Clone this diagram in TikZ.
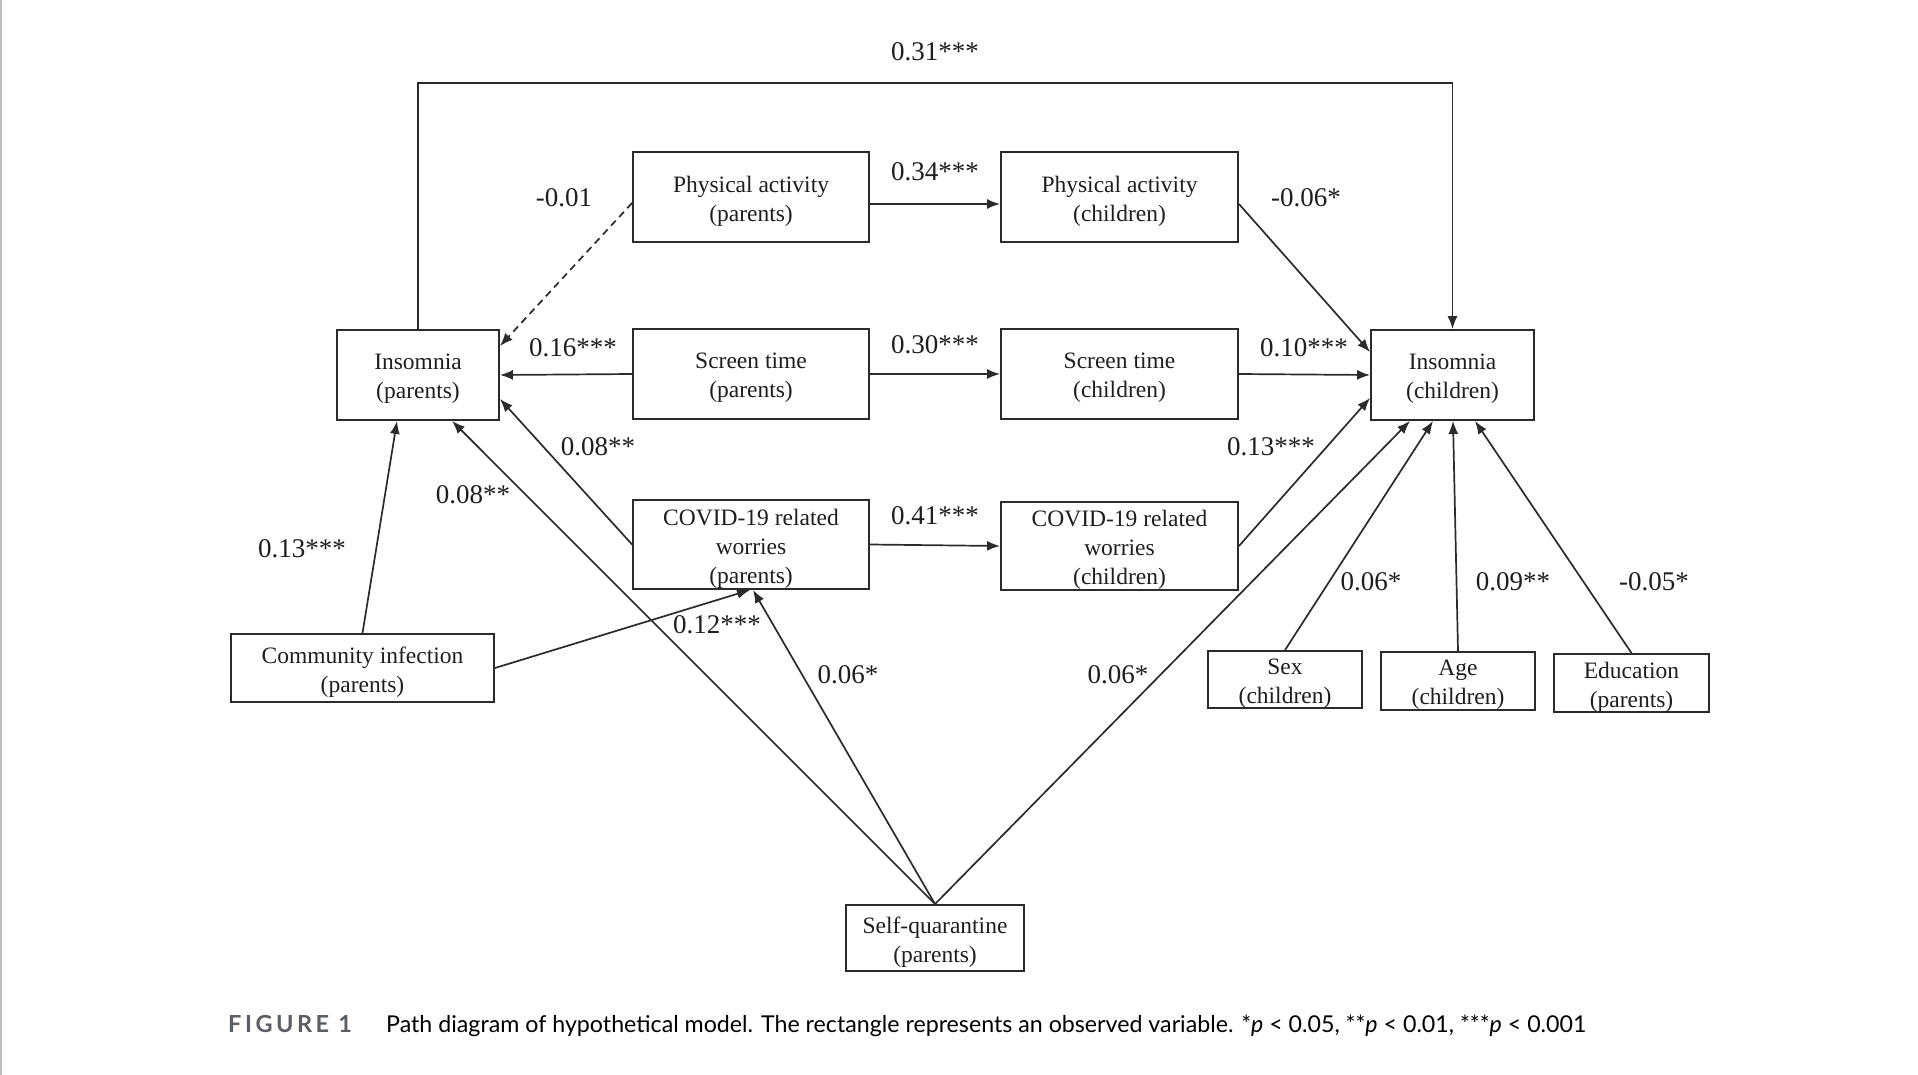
\documentclass[tikz,border=0pt]{standalone}
\usepackage{fontspec}
\setmainfont{Liberation Serif}
\newfontfamily\capfont{Lato}
\usetikzlibrary{arrows.meta}
\definecolor{linec}{HTML}{2B2B2B}
\definecolor{txtc}{HTML}{1E1E1E}
\definecolor{capgray}{HTML}{5A5F66}
\definecolor{edgegray}{HTML}{BDBDBD}
\begin{document}
\begin{tikzpicture}[x=1pt,y=-1pt,
  box/.style={draw=linec, line width=1.9pt, inner sep=0pt},
  boxtxt/.style={yshift=-4pt, inner sep=0pt, align=center, text=txtc,
    font=\fontsize{23.5}{29}\selectfont},
  arr/.style={draw=linec, line width=1.7pt, -{Latex[length=13pt,width=10pt]}},
  lab/.style={inner sep=0pt, text=txtc, font=\fontsize{27}{30}\selectfont}]
\fill[white] (0,0) rectangle (1918,1075);
\useasboundingbox (0,0) rectangle (1918,1075);
\draw[edgegray, line width=2pt] (1,0) -- (1,1075);

% boxes
\node[box, minimum width=162pt, minimum height=90pt, label={[boxtxt]center:Insomnia\\(parents)}] (insp) at (418,375) {};
\node[box, minimum width=236pt, minimum height=90pt, label={[boxtxt]center:Physical activity\\(parents)}] (physp) at (751,197) {};
\node[box, minimum width=236pt, minimum height=90pt, label={[boxtxt]center:Screen time\\(parents)}] (scrp) at (751,374) {};
\node[box, minimum width=236pt, minimum height=89pt, label={[boxtxt]center:COVID-19 related\\worries\\(parents)}] (covp) at (751,544.5) {};
\node[box, minimum width=237pt, minimum height=90pt, label={[boxtxt]center:Physical activity\\(children)}] (physc) at (1119.5,197) {};
\node[box, minimum width=237pt, minimum height=90pt, label={[boxtxt]center:Screen time\\(children)}] (scrc) at (1119.5,374) {};
\node[box, minimum width=237pt, minimum height=88pt, label={[boxtxt]center:COVID-19 related\\worries\\(children)}] (covc) at (1119.5,546) {};
\node[box, minimum width=163pt, minimum height=90pt, label={[boxtxt]center:Insomnia\\(children)}] (insc) at (1452.5,375) {};
\node[box, minimum width=263pt, minimum height=68pt, label={[boxtxt]center:Community infection\\(parents)}] (comm) at (362.5,668) {};
\node[box, minimum width=178pt, minimum height=66pt, label={[boxtxt]center:Self-quarantine\\(parents)}] (selfq) at (935,938) {};
\node[box, minimum width=154pt, minimum height=57pt, label={[boxtxt]center:Sex\\(children)}] (sex) at (1285,679.5) {};
\node[box, minimum width=154pt, minimum height=58pt, label={[boxtxt]center:Age\\(children)}] (age) at (1458,681) {};
\node[box, minimum width=155pt, minimum height=58pt, label={[boxtxt]center:Education\\(parents)}] (edu) at (1631.5,683) {};

% connectors
\draw[arr] (insp.north) -- ++(0,-246) -| (insc.north);
\draw[arr] ([yshift=-7pt]physp.east) -- ([yshift=-7pt]physc.west);
\draw[arr] (scrp.east) -- (scrc.west);
\draw[arr] (covp.east) -- (covc.west);
\draw[arr, dash pattern=on 7pt off 5pt] ([yshift=-6pt]physp.west) -- ([yshift=-17pt]insp.north east);
\draw[arr] (scrp.west) -- (insp.east);
\draw[arr] (covp.west) -- ([yshift=22pt]insp.south east);
\draw[arr] (selfq.north) -- ([xshift=34pt]insp.south);
\draw[arr] (comm.north) -- ([xshift=-21pt]insp.south);
\draw[arr] (comm.east) -- ([xshift=-1pt]covp.south);
\draw[arr] (selfq.north) -- ([xshift=2pt]covp.south);
\draw[arr] (selfq.north) -- ([xshift=-42.5pt]insc.south);
\draw[arr] ([yshift=-7pt]physc.east) -- ([yshift=-23pt]insc.north west);
\draw[arr] (scrc.east) -- (insc.west);
\draw[arr] (covc.east) -- ([yshift=23pt]insc.south west);
\draw[arr] (sex.north) -- ([xshift=-19.5pt]insc.south);
\draw[arr] (age.north) -- ([xshift=0.5pt]insc.south);
\draw[arr] (edu.north) -- ([xshift=22.5pt]insc.south);

% labels
\node[lab] (l31) at (935,52) {0.31***};
\node[lab] (l34) at (935,172) {0.34***};
\node[lab] (l30) at (935,345) {0.30***};
\node[lab] (l41) at (935,516) {0.41***};
\node[lab] (l01) at (564,198) {-0.01};
\node[lab] (l16) at (573,348) {0.16***};
\node[lab] (l08a) at (598,447) {0.08**};
\node[lab] (l08b) at (473,495) {0.08**};
\node[lab] (l13a) at (302,549) {0.13***};
\node[lab] (l12) at (717,625) {0.12***};
\node[lab] (l06a) at (848,675) {0.06*};
\node[lab] (l06b) at (1118,675) {0.06*};
\node[lab] (l06c) at (1306,198) {-0.06*};
\node[lab] (l10) at (1304,348) {0.10***};
\node[lab] (l13b) at (1271,447) {0.13***};
\node[lab] (l06d) at (1371,582) {0.06*};
\node[lab] (l09) at (1513,582) {0.09**};
\node[lab] (l05) at (1654,582) {-0.05*};

% caption
\node[anchor=base west, inner sep=0pt, text=capgray, font=\capfont\bfseries\fontsize{23.5}{27}\selectfont] (figl) at (228,1032) {\addfontfeature{LetterSpace=15}FIGURE 1};
\node[anchor=base west, inner sep=0pt, text=black, font=\capfont\fontsize{23.2}{27}\selectfont] (capt) at (386,1032) {Path diagram of hypothetical model. The rectangle represents an observed variable. *\textit{p} < 0.05, **\textit{p} < 0.01, ***\textit{p} < 0.001};
\end{tikzpicture}
\end{document}
